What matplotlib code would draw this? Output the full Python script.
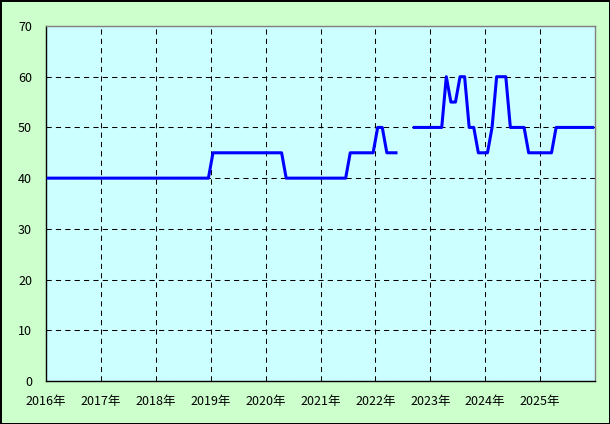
import numpy as np
import matplotlib
matplotlib.use("Agg")
import matplotlib.pyplot as plt

plt.rcParams['font.family'] = ['Noto Sans CJK JP', 'DejaVu Sans']

# monthly values, Jan 2016 .. Dec 2025 (nan = no data)
start_year = 2016
values = (
    [40] * 36 +                 # 2016-01 .. 2018-12
    [45] * 16 +                 # 2019-01 .. 2020-04
    [40] * 14 +                 # 2020-05 .. 2021-06
    [45] * 6 +                  # 2021-07 .. 2021-12
    [50, 50] +                  # 2022-01 .. 2022-02
    [45, 45, 45] +              # 2022-03 .. 2022-05
    [np.nan] * 3 +              # 2022-06 .. 2022-08
    [50] * 7 +                  # 2022-09 .. 2023-03
    [60, 55, 55, 60, 60, 50, 50, 45, 45, 45] +   # 2023-04 .. 2024-01
    [50, 60, 60, 60] +          # 2024-02 .. 2024-05
    [50] * 4 +                  # 2024-06 .. 2024-09
    [45] * 6 +                  # 2024-10 .. 2025-03
    [50] * 9                    # 2025-04 .. 2025-12
)
years = list(range(2016, 2026))
year_labels = [f"{y}年" for y in years]
yticks = [0, 10, 20, 30, 40, 50, 60, 70]

vals = np.array(values, dtype=float)
x = start_year + (np.arange(len(vals)) + 0.5) / 12

fig = plt.figure(figsize=(6.1, 4.24), dpi=100)
fig.patch.set_facecolor('#CCFFCC')
fig.patch.set_edgecolor('black')
fig.patch.set_linewidth(2)
ax = fig.add_axes([46 / 610, 43 / 424, 549 / 610, 355 / 424])
ax.set_facecolor('#CCFFFF')

ax.plot(x, vals, color='#0000FF', lw=2.2, zorder=3)

ax.set_xlim(2016, 2026)
ax.set_ylim(0, 70)
ax.set_xticks(years)
ax.set_xticklabels(year_labels)
ax.set_yticks(yticks)
ax.tick_params(length=0, labelsize=9, pad=10, colors='black')
ax.grid(True, color='black', linestyle=(0, (5, 4)), lw=0.75)

for side in ['left', 'bottom']:
    ax.spines[side].set_color('black')
    ax.spines[side].set_linewidth(1)
for side in ['top', 'right']:
    ax.spines[side].set_color('#808080')
    ax.spines[side].set_linewidth(1)

fig.savefig('out.png', dpi=100)
